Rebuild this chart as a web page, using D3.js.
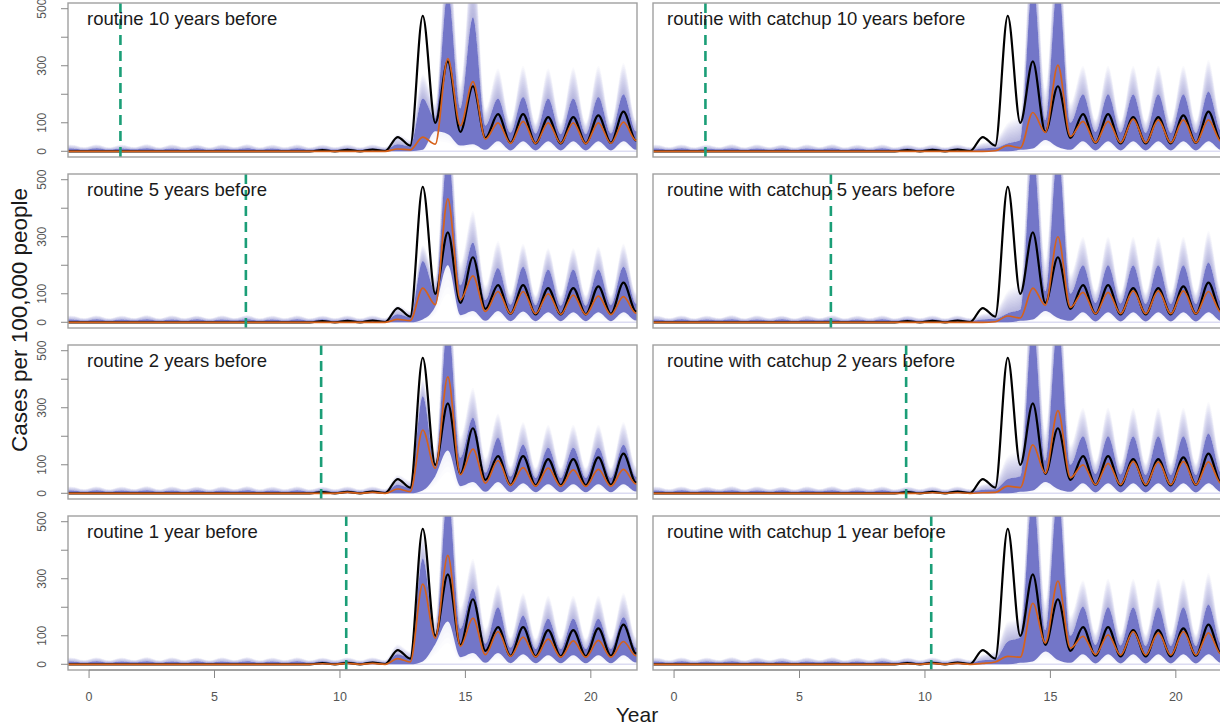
<!DOCTYPE html>
<html>
<head>
<meta charset="utf-8">
<script src="https://cdn.jsdelivr.net/npm/d3@7"></script>
<style>
  html, body { margin: 0; padding: 0; background: #ffffff; }
  svg { display: block; font-family: "Liberation Sans", Arial, Helvetica, sans-serif; }
</style>
</head>
<body>
<svg id="chart" width="1220" height="727"></svg>
<script>
// ---- time grid (years) ----
// before the outbreak period every panel shares the same quiet pattern
const earlyTimes = [-1.2,-0.7,-0.2,0.3,0.8,1.3,1.8,2.3,2.8,3.3,3.8,4.3,4.8,5.3,5.8,6.3,6.8,7.3,7.8,8.3];
const earlyZero  = [0,0,0,0,0,0,0,0,0,0,0,0,0,0,0,0,0,0,0,0];
const earlyHi    = [6,10,6,11,6,10,7,11,6,10,6,11,6,10,7,11,6,10,6,11];
const earlyTop   = [14,24,15,25,14,24,15,26,14,25,15,24,14,25,15,26,14,24,15,25];

const lateTimes = [8.8,9.3,9.8,10.3,10.8,11.3,11.8,12.3,12.8,13.3,13.8,14.3,14.8,15.3,15.8,16.3,16.8,17.3,17.8,18.3,18.8,19.3,19.8,20.3,20.8,21.3,21.8,22.3];

// observed incidence (same in every panel)
const observedLate = [0,4,0,5,0,6,1,50,20,475,100,315,68,228,47,130,30,130,28,120,28,120,28,126,30,139,38,125];

// simulated median, central band (lo..hi) and faint outer limit (top)
const medR10 = [0,0,0,0,0,0,0,8,5,50,25,325,90,244,43,100,28,105,28,100,28,100,27,100,28,102,38,95];
const hiR10  = [6,11,6,11,6,11,6,25,18,185,115,560,150,470,90,185,65,190,62,185,60,185,60,190,62,200,70,190];
const topR10 = [14,24,15,25,14,25,15,60,40,270,170,760,240,720,150,290,105,300,100,290,100,295,100,300,100,310,110,300];
const loR10  = [0,0,0,0,0,0,0,0,0,5,70,60,20,25,5,35,3,35,3,35,3,35,3,35,3,35,5,35];

const medR5 = [0,0,0,0,0,0,0,10,6,120,62,433,79,163,38,108,30,108,30,100,28,95,27,92,27,90,32,90];
const hiR5  = [6,11,6,11,6,11,6,28,18,215,110,600,130,280,78,190,62,195,60,185,58,185,58,185,60,195,66,190];
const topR5 = [14,24,15,25,14,25,15,60,40,270,160,780,210,390,130,285,100,275,95,260,95,260,95,265,95,275,105,270];
const loR5  = [0,0,0,0,0,0,0,0,0,10,55,200,25,40,5,40,4,38,4,35,4,35,4,35,4,35,6,35];

const medR2 = [0,0,0,3,0,3,0,15,6,222,88,408,65,155,36,115,28,90,25,88,25,82,24,84,25,84,33,84];
const hiR2  = [6,11,6,11,6,11,6,30,20,340,100,600,125,265,72,195,58,170,54,160,54,160,54,160,54,170,58,165];
const topR2 = [14,24,15,25,14,25,15,65,45,400,150,780,200,370,125,280,95,250,90,240,90,240,90,240,90,250,95,245];
const loR2  = [0,0,0,0,0,0,0,0,0,10,60,150,25,40,5,40,4,35,4,32,4,32,4,32,4,32,6,32];

const medR1 = [0,2,0,3,0,3,0,20,8,281,92,382,63,162,34,115,28,95,26,88,25,82,25,84,25,80,30,82];
const hiR1  = [6,11,6,11,6,11,6,35,22,370,105,600,125,265,72,200,58,170,54,160,54,160,54,160,54,165,58,165];
const topR1 = [14,24,15,25,14,25,15,70,45,450,160,780,200,370,125,280,95,250,90,240,90,240,90,240,90,250,95,245];
const loR1  = [0,0,0,0,0,0,0,0,0,10,70,150,25,40,5,40,4,35,4,32,4,32,4,32,4,32,6,32];

const medC10 = [0,0,0,0,0,0,0,0,2,20,12,136,66,302,52,105,31,105,30,113,30,110,30,110,30,110,35,110];
const hiC10  = [6,11,6,11,6,11,6,10,12,28,40,600,110,600,100,200,68,200,66,200,64,200,64,200,64,210,72,200];
const topC10 = [14,24,15,25,14,25,15,30,40,100,130,800,220,800,170,300,110,300,105,300,105,300,105,300,105,320,115,300];
const loC10  = [0,0,0,0,0,0,0,0,0,0,5,10,40,15,5,35,3,35,3,35,3,35,3,35,3,35,5,35];

const medC5 = [0,0,0,0,0,0,0,0,2,22,15,120,60,300,52,105,30,105,30,110,30,110,30,110,30,108,35,108];
const hiC5  = [6,11,6,11,6,11,6,10,12,32,45,600,110,600,100,200,68,200,66,200,64,200,64,200,64,210,72,200];
const topC5 = [14,24,15,25,14,25,15,30,40,110,140,800,220,800,170,300,110,300,105,300,105,300,105,300,105,320,115,300];
const loC5  = [0,0,0,0,0,0,0,0,0,0,5,10,40,15,5,35,3,35,3,35,3,35,3,35,3,35,5,35];

const medC2 = [0,0,0,2,0,2,0,2,3,25,20,170,70,290,55,100,30,105,30,112,30,110,30,112,30,110,35,110];
const hiC2  = [6,11,6,11,6,11,6,12,14,50,60,600,115,600,100,200,68,200,66,200,64,200,64,200,64,210,72,200];
const topC2 = [14,24,15,25,14,25,15,32,42,130,150,800,220,800,170,300,110,300,105,300,105,300,105,300,105,320,115,300];
const loC2  = [0,0,0,0,0,0,0,0,0,0,5,10,40,15,5,35,3,35,3,35,3,35,3,35,3,35,5,35];

const medC1 = [0,2,0,3,0,3,0,3,8,28,25,214,75,292,57,98,34,103,32,115,32,110,32,115,32,110,36,110];
const hiC1  = [6,11,6,11,6,11,6,14,18,80,95,600,120,600,100,202,68,200,66,200,64,200,64,200,64,210,72,200];
const topC1 = [14,24,15,25,14,25,15,35,45,150,160,800,220,800,170,295,110,300,105,300,105,300,105,300,105,320,115,300];
const loC1  = [0,0,0,0,0,0,0,0,0,0,5,10,45,15,5,35,3,35,3,35,3,35,3,35,3,35,5,35];

const panelLabels = [
  "routine 10 years before", "routine with catchup 10 years before",
  "routine 5 years before",  "routine with catchup 5 years before",
  "routine 2 years before",  "routine with catchup 2 years before",
  "routine 1 year before",   "routine with catchup 1 year before"
];
const vaccineStart = [1.25, 1.25, 6.25, 6.25, 9.25, 9.25, 10.25, 10.25];
const medians = [medR10, medC10, medR5, medC5, medR2, medC2, medR1, medC1];
const lows    = [loR10, loC10, loR5, loC5, loR2, loC2, loR1, loC1];
const highs   = [hiR10, hiC10, hiR5, hiC5, hiR2, hiC2, hiR1, hiC1];
const tops    = [topR10, topC10, topR5, topC5, topR2, topC2, topR1, topC1];

const yearTicks = [0, 5, 10, 15, 20];
const caseTicks = [0, 100, 200, 300, 400, 500];
const caseTickLabels = [0, 100, 300, 500];

// ---- layout ----
const svg = d3.select("#chart");
const colX = [68, 653];
const titleInset = [19, 14];
const panelW = 569;
const rowY = [3, 174, 345, 516];
const panelH = 154;

const BLUE = "#6b6fc5";
const ORANGE = "#d6621b";
const GREEN = "#1b9e77";

const times = earlyTimes.concat(lateTimes);
const observed = earlyZero.concat(observedLate);

const defs = svg.append("defs");

for (let p = 0; p < 8; p++) {
  const col = p % 2, row = Math.floor(p / 2);
  const x0 = colX[col], y0 = rowY[row];
  const x = d3.scaleLinear().domain([-0.84, 21.84]).range([x0, x0 + panelW]);
  const y = d3.scaleLinear().domain([-20, 520]).range([y0 + panelH, y0]);

  const nE = earlyTimes.length;
  const rows = times.map((t, i) => ({
    t,
    obs: observed[i],
    med: i < nE ? earlyZero[i] : medians[p][i - nE],
    lo:  i < nE ? earlyZero[i] : lows[p][i - nE],
    hi:  i < nE ? earlyHi[i]   : highs[p][i - nE],
    top: i < nE ? earlyTop[i]  : tops[p][i - nE]
  }));

  const clipId = "clip" + p;
  defs.append("clipPath").attr("id", clipId)
    .append("rect").attr("x", x0).attr("y", y0).attr("width", panelW).attr("height", panelH);

  const g = svg.append("g");
  const plot = g.append("g").attr("clip-path", `url(#${clipId})`);
  const curve = d3.curveMonotoneX;

  // faint floor of the simulation envelope
  plot.append("line")
    .attr("x1", x0).attr("x2", x0 + panelW)
    .attr("y1", y(0)).attr("y2", y(0))
    .attr("stroke", "#dcdcf2").attr("stroke-width", 1.6);

  // fading upper tail of the envelope
  const nUp = 16;
  for (let k = 1; k <= nUp; k++) {
    plot.append("path").datum(rows)
      .attr("d", d3.area().curve(curve)
        .x(d => x(d.t))
        .y0(d => y(d.hi))
        .y1(d => y(d.hi + (d.top - d.hi) * k / nUp)))
      .attr("fill", BLUE).attr("fill-opacity", 0.032);
  }
  // fading lower tail
  const nDown = 4;
  for (let k = 1; k <= nDown; k++) {
    plot.append("path").datum(rows)
      .attr("d", d3.area().curve(curve)
        .x(d => x(d.t))
        .y0(d => y(d.lo))
        .y1(d => y(d.lo * (1 - 0.5 * k / nDown))))
      .attr("fill", BLUE).attr("fill-opacity", 0.025);
  }
  // central band
  plot.append("path").datum(rows)
    .attr("d", d3.area().curve(curve)
      .x(d => x(d.t)).y0(d => y(d.lo)).y1(d => y(d.hi)))
    .attr("fill", BLUE).attr("fill-opacity", 0.95);

  // observed
  plot.append("path").datum(rows)
    .attr("d", d3.line().curve(curve).x(d => x(d.t)).y(d => y(d.obs)))
    .attr("fill", "none").attr("stroke", "#000").attr("stroke-width", 2.2)
    .attr("stroke-linejoin", "round");
  // simulated median
  plot.append("path").datum(rows)
    .attr("d", d3.line().curve(curve).x(d => x(d.t)).y(d => y(d.med)))
    .attr("fill", "none").attr("stroke", ORANGE).attr("stroke-width", 1.7)
    .attr("stroke-linejoin", "round");

  // vaccination start
  plot.append("line")
    .attr("x1", x(vaccineStart[p])).attr("x2", x(vaccineStart[p]))
    .attr("y1", y0).attr("y2", y0 + panelH)
    .attr("stroke", GREEN).attr("stroke-width", 2.6)
    .attr("stroke-dasharray", "10,6");

  // frame
  g.append("rect")
    .attr("x", x0).attr("y", y0).attr("width", panelW).attr("height", panelH)
    .attr("fill", "none").attr("stroke", "#a0a0a0").attr("stroke-width", 1.4);

  // panel title
  g.append("text")
    .attr("x", x0 + titleInset[col]).attr("y", y0 + 22)
    .attr("font-size", 18.5).attr("fill", "#1a1a1a")
    .text(panelLabels[p]);

  // y axis on the left column
  if (col === 0) {
    const ax = g.append("g");
    ax.selectAll("line.tick").data(caseTicks).join("line")
      .attr("x1", x0).attr("x2", x0 - 7)
      .attr("y1", d => y(d)).attr("y2", d => y(d))
      .attr("stroke", "#888").attr("stroke-width", 1);
    ax.selectAll("text").data(caseTickLabels).join("text")
      .attr("transform", d => `translate(${x0 - 22},${y(d)}) rotate(-90)`)
      .attr("text-anchor", "middle")
      .attr("font-size", 12).attr("fill", "#555")
      .text(d => d);
  }

  // x axis under the bottom row
  if (row === 3) {
    const ax = g.append("g");
    const ya = y0 + panelH;
    ax.append("line")
      .attr("x1", x(yearTicks[0])).attr("x2", x(yearTicks[yearTicks.length - 1]))
      .attr("y1", ya).attr("y2", ya)
      .attr("stroke", "#888").attr("stroke-width", 1);
    ax.selectAll("line.tick").data(yearTicks).join("line")
      .attr("x1", d => x(d)).attr("x2", d => x(d))
      .attr("y1", ya).attr("y2", ya + 8)
      .attr("stroke", "#888").attr("stroke-width", 1);
    ax.selectAll("text").data(yearTicks).join("text")
      .attr("x", d => x(d)).attr("y", ya + 31)
      .attr("text-anchor", "middle")
      .attr("font-size", 12.5).attr("fill", "#555")
      .text(d => d);
  }
}

// axis titles
svg.append("text")
  .attr("x", 637).attr("y", 722)
  .attr("text-anchor", "middle").attr("font-size", 21).attr("fill", "#1a1a1a")
  .text("Year");
svg.append("text")
  .attr("transform", "translate(27,320) rotate(-90)")
  .attr("text-anchor", "middle").attr("font-size", 22.5).attr("fill", "#1a1a1a")
  .text("Cases per 100,000 people");
</script>
</body>
</html>
